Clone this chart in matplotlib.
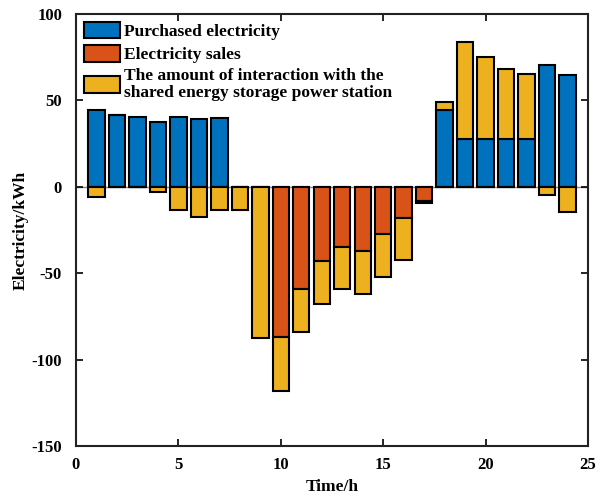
import matplotlib
matplotlib.use("Agg")
import matplotlib.pyplot as plt
import numpy as np

hours = np.arange(1, 25)
purchase = [44.2, 41.3, 40.5, 37.3, 40.6, 39.2, 39.6, 0, 0, 0, 0, 0,
            0, 0, 0, 0, 0, 44.4, 27.7, 27.7, 27.7, 27.7, 70.5, 64.7]
sales = [0, 0, 0, 0, 0, 0, 0, 0, 0, 86.7, 59.1, 42.7,
         34.6, 37.0, 27.3, 17.9, 8.2, 0, 0, 0, 0, 0, 0, 0]
interaction = [-6.1, 0, -0.3, -2.8, -13.4, -17.3, -13.4, -13.4, -87.3, -31.3, -25.1, -25.1,
               -24.7, -25.0, -25.1, -24.5, -1.3, 4.5, 56.3, 47.2, 40.3, 37.4, -5.0, -14.5]

labels = ["Purchased electricity", "Electricity sales",
          "The amount of interaction with the\nshared energy storage power station"]
colors = ["#0072BD", "#D95319", "#EDB120"]

plt.rcParams['font.family'] = ['Liberation Serif', 'DejaVu Serif']
plt.rcParams['font.weight'] = 'bold'
plt.rcParams['axes.unicode_minus'] = False

fig = plt.figure(figsize=(6.03, 5.0), dpi=100)
ax = fig.add_axes([76/603, 54/500, 512/603, 432/500])

purchase = np.array(purchase)
sales = np.array(sales)
interaction = np.array(interaction)
w = 0.8
lw = 1.5
ax.axhline(0, color="#888888", lw=1.0, zorder=0)
ax.bar(hours, purchase, w, color=colors[0], edgecolor='black', lw=lw, label=labels[0], zorder=2)
ax.bar(hours, -sales, w, color=colors[1], edgecolor='black', lw=lw, label=labels[1], zorder=2)
ybottom = np.where(interaction >= 0, purchase, -sales)
ax.bar(hours, interaction, w, bottom=ybottom, color=colors[2], edgecolor='black', lw=lw,
       label=labels[2], zorder=2)

ax.set_xlim(0, 25)
ax.set_ylim(-150, 100)
ax.set_xticks([0, 5, 10, 15, 20, 25])
ax.set_yticks([-150, -100, -50, 0, 50, 100])
ax.tick_params(direction='in', top=True, right=True, length=5, width=1.2, labelsize=12)
ax.tick_params(axis='x', pad=8)
ax.tick_params(axis='y', pad=10)
for s in ax.spines.values():
    s.set_linewidth(1.5)
    s.set_color('#222222')
ax.set_xlabel("Time/h", fontsize=12.5, fontweight='bold', labelpad=4)
ax.set_ylabel("Electricity/kWh", fontsize=12.5, fontweight='bold', labelpad=2)

leg = ax.legend(loc='upper left', bbox_to_anchor=(0, 1), frameon=False,
                handlelength=2.1, handleheight=1.1, handletextpad=0.2,
                borderaxespad=0.1, labelspacing=0.28, borderpad=0.35,
                prop={'weight': 'bold', 'size': 12.5})
for t in leg.get_texts():
    t.set_linespacing(1.05)
fig.savefig("out.png", dpi=100)
